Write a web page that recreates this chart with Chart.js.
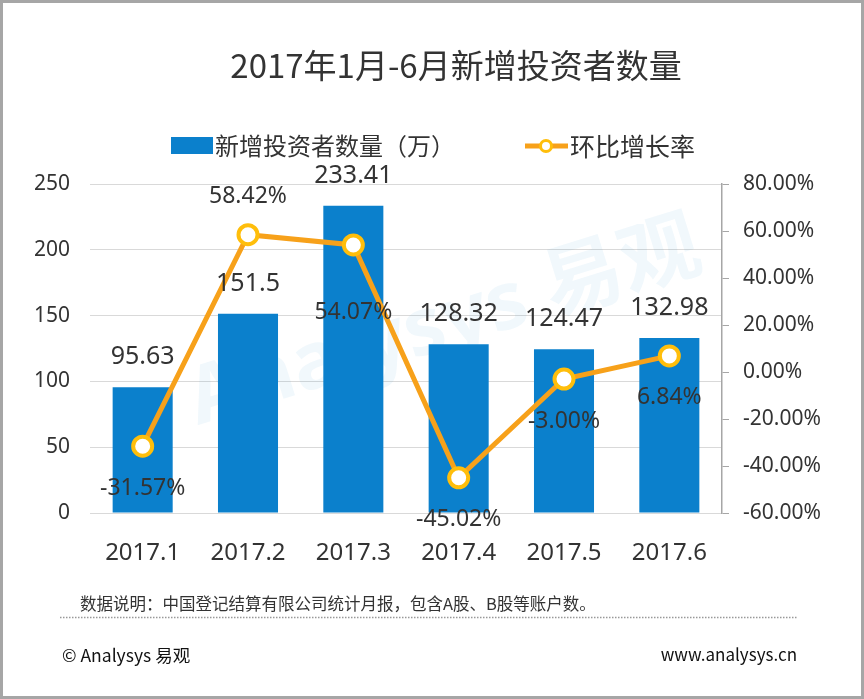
<!DOCTYPE html>
<html>
<head>
<meta charset="utf-8">
<script src="https://cdn.jsdelivr.net/npm/chart.js@4"></script>
<style>
  html, body { margin: 0; padding: 0; background: #fff; }
  #wrap { position: relative; width: 864px; height: 699px; box-sizing: border-box; border: 3px solid #a6a6a6; overflow: hidden; }
  #c { position: absolute; left: -3px; top: -3px; }
</style>
</head>
<body>
<div id="wrap"><canvas id="c" width="864" height="699"></canvas></div>
<script>
var categories = ['2017.1', '2017.2', '2017.3', '2017.4', '2017.5', '2017.6'];
var investors = [95.63, 151.5, 233.41, 128.32, 124.47, 132.98];
var growth = [-31.57, 58.42, 54.07, -45.02, -3.00, 6.84];
var leftTicks = [0, 50, 100, 150, 200, 250];
var rightTicks = [-60, -40, -20, 0, 20, 40, 60, 80];

var FONT = "'Noto Sans', 'Noto Sans CJK SC', sans-serif";
var CJK = "'Noto Sans CJK SC', 'Noto Sans', sans-serif";
var BAR = '#0B80CC';
var LINE = '#F7A11A';
var MARK = '#FFBE0B';
var TEXT = '#333333';

// where each growth label sits relative to its point (px, + = below)
var growthLabelShift = [42, -38, 68, 42, 42, 42];

var decor = {
  id: 'decor',
  beforeDatasetsDraw: function(chart) {
    var ctx = chart.ctx;
    // watermark
    ctx.save();
    ctx.translate(445, 325);
    ctx.rotate(-0.3);
    ctx.fillStyle = 'rgba(11,128,204,0.06)';
    ctx.font = 'bold 80px ' + FONT;
    ctx.textAlign = 'center';
    ctx.textBaseline = 'middle';
    ctx.fillText('Analysys 易观', 0, 0);
    ctx.restore();
  },
  afterDraw: function(chart) {
    var ctx = chart.ctx;
    ctx.save();
    ctx.fillStyle = TEXT;
    ctx.textBaseline = 'middle';
    // title
    ctx.font = '33px ' + CJK;
    ctx.textAlign = 'center';
    ctx.fillText('2017年1月-6月新增投资者数量', 456, 65);
    // legend
    ctx.fillStyle = BAR;
    ctx.fillRect(171, 137, 42, 17);
    ctx.fillStyle = TEXT;
    ctx.font = '24px ' + CJK;
    ctx.textAlign = 'left';
    ctx.fillText('新增投资者数量（万）', 215, 146);
    ctx.strokeStyle = LINE;
    ctx.lineWidth = 5;
    ctx.beginPath(); ctx.moveTo(525, 146); ctx.lineTo(568, 146); ctx.stroke();
    ctx.fillStyle = '#fff';
    ctx.strokeStyle = MARK;
    ctx.lineWidth = 3;
    ctx.beginPath(); ctx.arc(546, 146, 5.5, 0, Math.PI * 2); ctx.fill(); ctx.stroke();
    ctx.fillStyle = TEXT;
    ctx.font = '25px ' + CJK;
    ctx.fillText('环比增长率', 570, 146);
    // footer
    ctx.font = '16.5px ' + CJK;
    ctx.fillText('数据说明：中国登记结算有限公司统计月报，包含A股、B股等账户数。', 80, 604);
    ctx.strokeStyle = '#999';
    ctx.lineWidth = 1.5;
    ctx.setLineDash([1.5, 1.5]);
    ctx.beginPath(); ctx.moveTo(60, 617.5); ctx.lineTo(798, 617.5); ctx.stroke();
    ctx.setLineDash([]);
    ctx.fillStyle = '#111';
    ctx.font = '17.5px ' + CJK;
    ctx.fillText('© Analysys 易观', 62, 655);
    ctx.textAlign = 'right';
    ctx.font = '17px ' + CJK;
    ctx.fillText('www.analysys.cn', 797, 655);
    ctx.restore();
  },
  afterDatasetsDraw: function(chart) {
    var ctx = chart.ctx;
    ctx.save();
    ctx.fillStyle = TEXT;
    ctx.textAlign = 'center';
    ctx.textBaseline = 'middle';
    ctx.font = '25px ' + FONT;
    chart.getDatasetMeta(1).data.forEach(function(bar, i) {
      ctx.fillText(String(investors[i]), bar.x, bar.y - 30);
    });
    ctx.font = '23px ' + FONT;
    chart.getDatasetMeta(0).data.forEach(function(pt, i) {
      ctx.fillText(growth[i].toFixed(2) + '%', pt.x, pt.y + growthLabelShift[i]);
    });
    ctx.restore();
  }
};

new Chart(document.getElementById('c'), {
  data: {
    labels: categories,
    datasets: [{
      type: 'line',
      label: '环比增长率',
      data: growth,
      yAxisID: 'y1',
      borderColor: LINE,
      borderWidth: 5,
      pointRadius: 9.5,
      pointBorderWidth: 4,
      pointBorderColor: MARK,
      pointBackgroundColor: '#fff',
      tension: 0,
      order: 0
    }, {
      type: 'bar',
      label: '新增投资者数量（万）',
      data: investors,
      yAxisID: 'y',
      backgroundColor: BAR,
      categoryPercentage: 1,
      barPercentage: 0.57,
      order: 1
    }]
  },
  plugins: [decor],
  options: {
    responsive: false,
    animation: false,
    layout: { padding: { top: 184, left: 0, right: 0, bottom: 0 } },
    plugins: { legend: { display: false }, tooltip: { enabled: false } },
    scales: {
      x: {
        grid: { display: false },
        border: { display: false },
        ticks: { color: TEXT, font: { size: 24, family: FONT }, padding: 18 },
        afterFit: function(s) { s.height = 186; }
      },
      y: {
        position: 'left',
        min: 0, max: 250,
        afterBuildTicks: function(s) { s.ticks = leftTicks.map(function(v) { return { value: v }; }); },
        grid: { color: '#d9d9d9', lineWidth: 1, drawTicks: false },
        border: { display: false },
        ticks: { color: TEXT, font: { size: 21, family: FONT }, padding: 20 },
        afterFit: function(s) { s.width = 90; }
      },
      y1: {
        position: 'right',
        min: -60, max: 80,
        afterBuildTicks: function(s) { s.ticks = rightTicks.map(function(v) { return { value: v }; }); },
        grid: { drawOnChartArea: false, color: '#a6a6a6', tickLength: 7 },
        border: { display: true, color: '#a6a6a6', width: 1.5 },
        ticks: {
          color: TEXT, font: { size: 21, family: FONT }, padding: 14,
          callback: function(v) { return v.toFixed(2) + '%'; }
        },
        afterFit: function(s) { s.width = 142; }
      }
    }
  }
});
</script>
</body>
</html>
